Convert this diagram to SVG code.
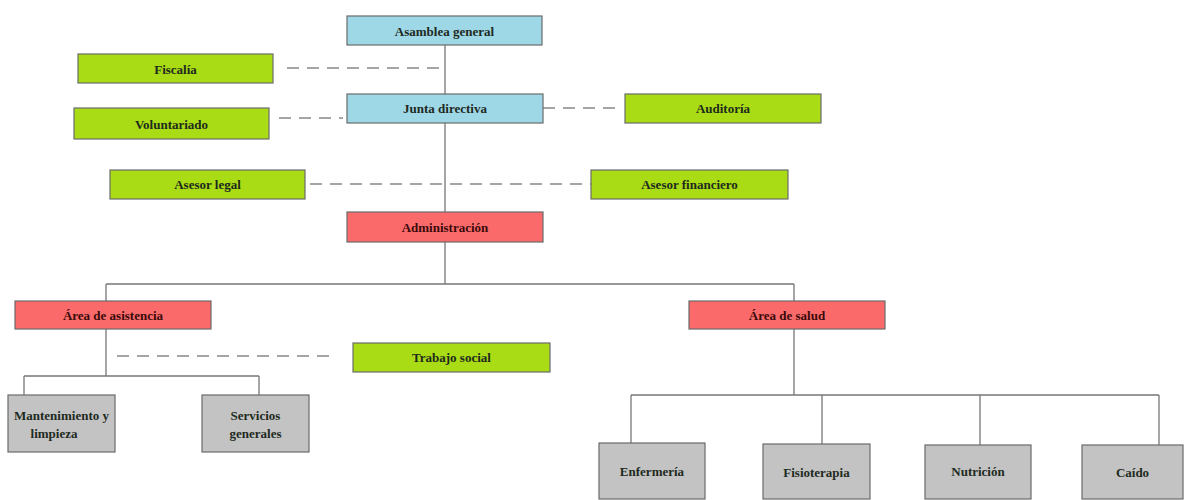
<svg xmlns="http://www.w3.org/2000/svg" width="1185" height="500" viewBox="0 0 1185 500">
<style>
.box{stroke:#6b6b6b;stroke-width:1.2}
.blue{fill:#9ed8e6}
.green{fill:#a9dc14}
.red{fill:#fb6a6a}
.gray{fill:#c3c3c3}
.t{font-family:"Liberation Serif","Times New Roman",serif;font-weight:bold;font-size:13px;fill:#1e2a1e;text-anchor:middle;dominant-baseline:central}
.tr{fill:#3a0a0a}
.solid{stroke:#777;stroke-width:1.3;fill:none}
.dash{stroke:#888;stroke-width:1.3;fill:none;stroke-dasharray:12 8}
</style>
<rect width="1185" height="500" fill="#ffffff"/>
<g id="connectors">
<path class="solid" d="M445 45 V284 M106 284 H794 M106 284 V301 M794 284 V301 M106 329 V376 M24 376 H259 M24 376 V395 M259 376 V395 M794 329 V395 M631 395 H1159 M631 395 V443 M822 395 V444 M980 395 V445 M1159 395 V445"/>
<path class="dash" d="M287 68 H445"/>
<path class="dash" d="M279 118 H343"/>
<path class="dash" d="M543 108 H620"/>
<path class="dash" d="M310 184 H591"/>
<path class="dash" d="M117 356 H335"/>
</g>
<g id="asamblea"><rect class="box blue" x="347" y="16" width="195" height="29"/><text class="t" x="444.5" y="31">Asamblea general</text></g>
<g id="fiscalia"><rect class="box green" x="78" y="54" width="195" height="29"/><text class="t" x="175.5" y="69">Fiscalía</text></g>
<g id="junta"><rect class="box blue" x="347" y="94" width="196" height="29"/><text class="t" x="445" y="108">Junta directiva</text></g>
<g id="voluntariado"><rect class="box green" x="74" y="108" width="195" height="31"/><text class="t" x="171.5" y="124">Voluntariado</text></g>
<g id="auditoria"><rect class="box green" x="625" y="94" width="196" height="29"/><text class="t" x="723" y="108">Auditoría</text></g>
<g id="asesor-legal"><rect class="box green" x="110" y="170" width="195" height="29"/><text class="t" x="207.5" y="184">Asesor legal</text></g>
<g id="asesor-financiero"><rect class="box green" x="591" y="170" width="197" height="29"/><text class="t" x="689.5" y="184">Asesor financiero</text></g>
<g id="administracion"><rect class="box red" x="347" y="212" width="196" height="30"/><text class="t tr" x="445" y="227">Administración</text></g>
<g id="area-asistencia"><rect class="box red" x="15" y="301" width="196" height="28"/><text class="t tr" x="113" y="315">Área de asistencia</text></g>
<g id="area-salud"><rect class="box red" x="689" y="301" width="196" height="28"/><text class="t tr" x="787" y="315">Área de salud</text></g>
<g id="trabajo-social"><rect class="box green" x="353" y="343" width="197" height="29"/><text class="t" x="451.5" y="357">Trabajo social</text></g>
<g id="mantenimiento"><rect class="box gray" x="8" y="395" width="107" height="57"/><text class="t" x="61.5" y="415">Mantenimiento y</text><text class="t" x="54" y="433">limpieza</text></g>
<g id="servicios"><rect class="box gray" x="202" y="395" width="107" height="57"/><text class="t" x="255.5" y="415">Servicios</text><text class="t" x="255.5" y="433">generales</text></g>
<g id="enfermeria"><rect class="box gray" x="599" y="443" width="106" height="56"/><text class="t" x="652" y="471">Enfermería</text></g>
<g id="fisioterapia"><rect class="box gray" x="763" y="444" width="107" height="55"/><text class="t" x="816.5" y="472">Fisioterapia</text></g>
<g id="nutricion"><rect class="box gray" x="925" y="445" width="106" height="54"/><text class="t" x="978" y="471">Nutrición</text></g>
<g id="caido"><rect class="box gray" x="1082" y="445" width="101" height="54"/><text class="t" x="1132.5" y="472">Caído</text></g>
</svg>
